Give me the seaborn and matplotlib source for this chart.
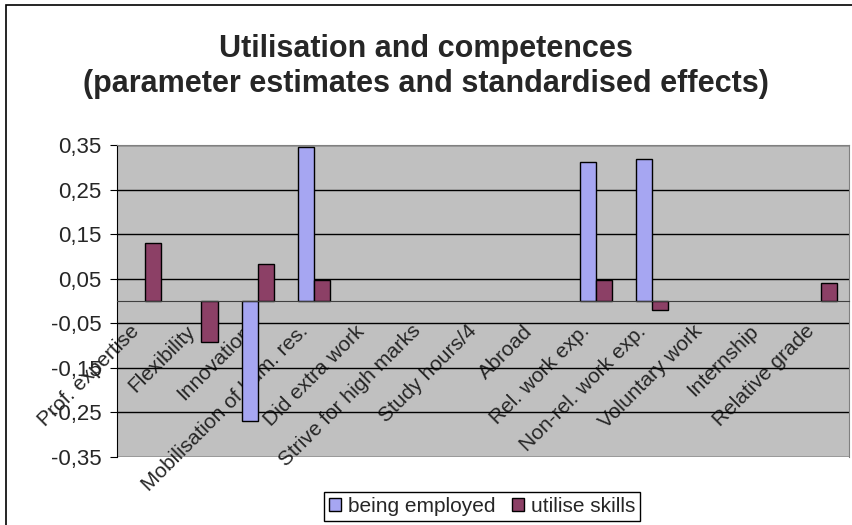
import numpy as np
import pandas as pd
import seaborn as sns
import matplotlib.pyplot as plt
from matplotlib.patches import Rectangle
from matplotlib.ticker import FixedLocator
from matplotlib.transforms import ScaledTranslation

# categorie e valori
categories = ["Prof. expertise", "Flexibility", "Innovation", "Mobilisation of hum. res.",
              "Did extra work", "Strive for high marks", "Study hours/4", "Abroad",
              "Rel. work exp.", "Non-rel. work exp.", "Voluntary work", "Internship",
              "Relative grade"]
series = ["being employed", "utilise skills"]
being_employed = [np.nan, np.nan, -0.27, 0.345, np.nan, np.nan, np.nan, np.nan,
                  0.312, 0.318, np.nan, np.nan, np.nan]
utilise_skills = [0.131, -0.091, 0.082, 0.046, np.nan, np.nan, np.nan, np.nan,
                  0.046, -0.021, np.nan, np.nan, 0.040]
yticks = [-0.35, -0.25, -0.15, -0.05, 0.05, 0.15, 0.25, 0.35]
colors = ["#9999FF", "#993366"]

df = pd.DataFrame({
    "cat": categories * 2,
    "serie": [series[0]] * len(categories) + [series[1]] * len(categories),
    "val": being_employed + utilise_skills,
})

sns.set_style("white")
plt.rcParams['font.family'] = ['Liberation Sans', 'DejaVu Sans']

fig = plt.figure(figsize=(8.52, 5.25), dpi=100)
ax = fig.add_axes([117 / 852, 1 - 457 / 525, 732 / 852, 312 / 525])
ax.set_facecolor("#C0C0C0")

sns.barplot(data=df, x="cat", y="val", hue="serie", order=categories, hue_order=series,
            palette=colors, width=0.57, gap=0, edgecolor="black", linewidth=1,
            errorbar=None, ax=ax, zorder=3)

ax.set_xlim(-0.5, len(categories) - 0.5)
ax.set_ylim(-0.35, 0.35)
ax.set_yticks(yticks)
ax.set_yticklabels([f"{t:.2f}".replace(".", ",") for t in yticks], fontsize=16)
for t in yticks:
    ax.axhline(t, color="black", lw=1, zorder=1)

# asse delle categorie sullo zero
ax.spines['bottom'].set_position(('data', 0))
ax.spines['bottom'].set_color("#404040")
ax.spines['bottom'].set_zorder(4)
for s in ['top', 'right']:
    ax.spines[s].set_color("#808080")
ax.spines['left'].set_color("black")
ax.xaxis.set_minor_locator(FixedLocator(np.arange(0.5, len(categories) - 0.5, 1)))
ax.tick_params(axis='x', which='major', length=0, pad=4)
ax.tick_params(axis='x', which='minor', length=5, direction='out', color='black')
ax.tick_params(axis='y', length=5, pad=6, direction='out', color='black', left=True)
ax.set_xticks(range(len(categories)))
ax.set_xticklabels(categories, rotation=45, ha='right', va='top',
                   rotation_mode='anchor', fontsize=15)
# spostamento delle etichette in basso a sinistra come in Excel
offset = ScaledTranslation(-16 / 100, -15 / 100, fig.dpi_scale_trans)
for lab in ax.get_xticklabels():
    lab.set_transform(lab.get_transform() + offset)
ax.set_xlabel("")
ax.set_ylabel("")

ax.legend(loc='center', bbox_to_anchor=(482 / 852, 1 - 506.5 / 525),
          bbox_transform=fig.transFigure, ncol=2, fontsize=15, frameon=True,
          fancybox=False, edgecolor="black", framealpha=1, borderpad=0.25,
          handlelength=0.6, handleheight=0.6, handletextpad=0.3, columnspacing=0.8)

fig.suptitle("Utilisation and competences\n(parameter estimates and standardised effects)",
             fontsize=22, fontweight='bold', y=1 - 34 / 525, va='top', linespacing=1.2)

fig.patches.append(Rectangle((6 / 852, -0.02), 1.0, 1.02 - 5 / 525, fill=False,
                             edgecolor="black", lw=1.2, transform=fig.transFigure))

fig.savefig("out.png", dpi=100)
